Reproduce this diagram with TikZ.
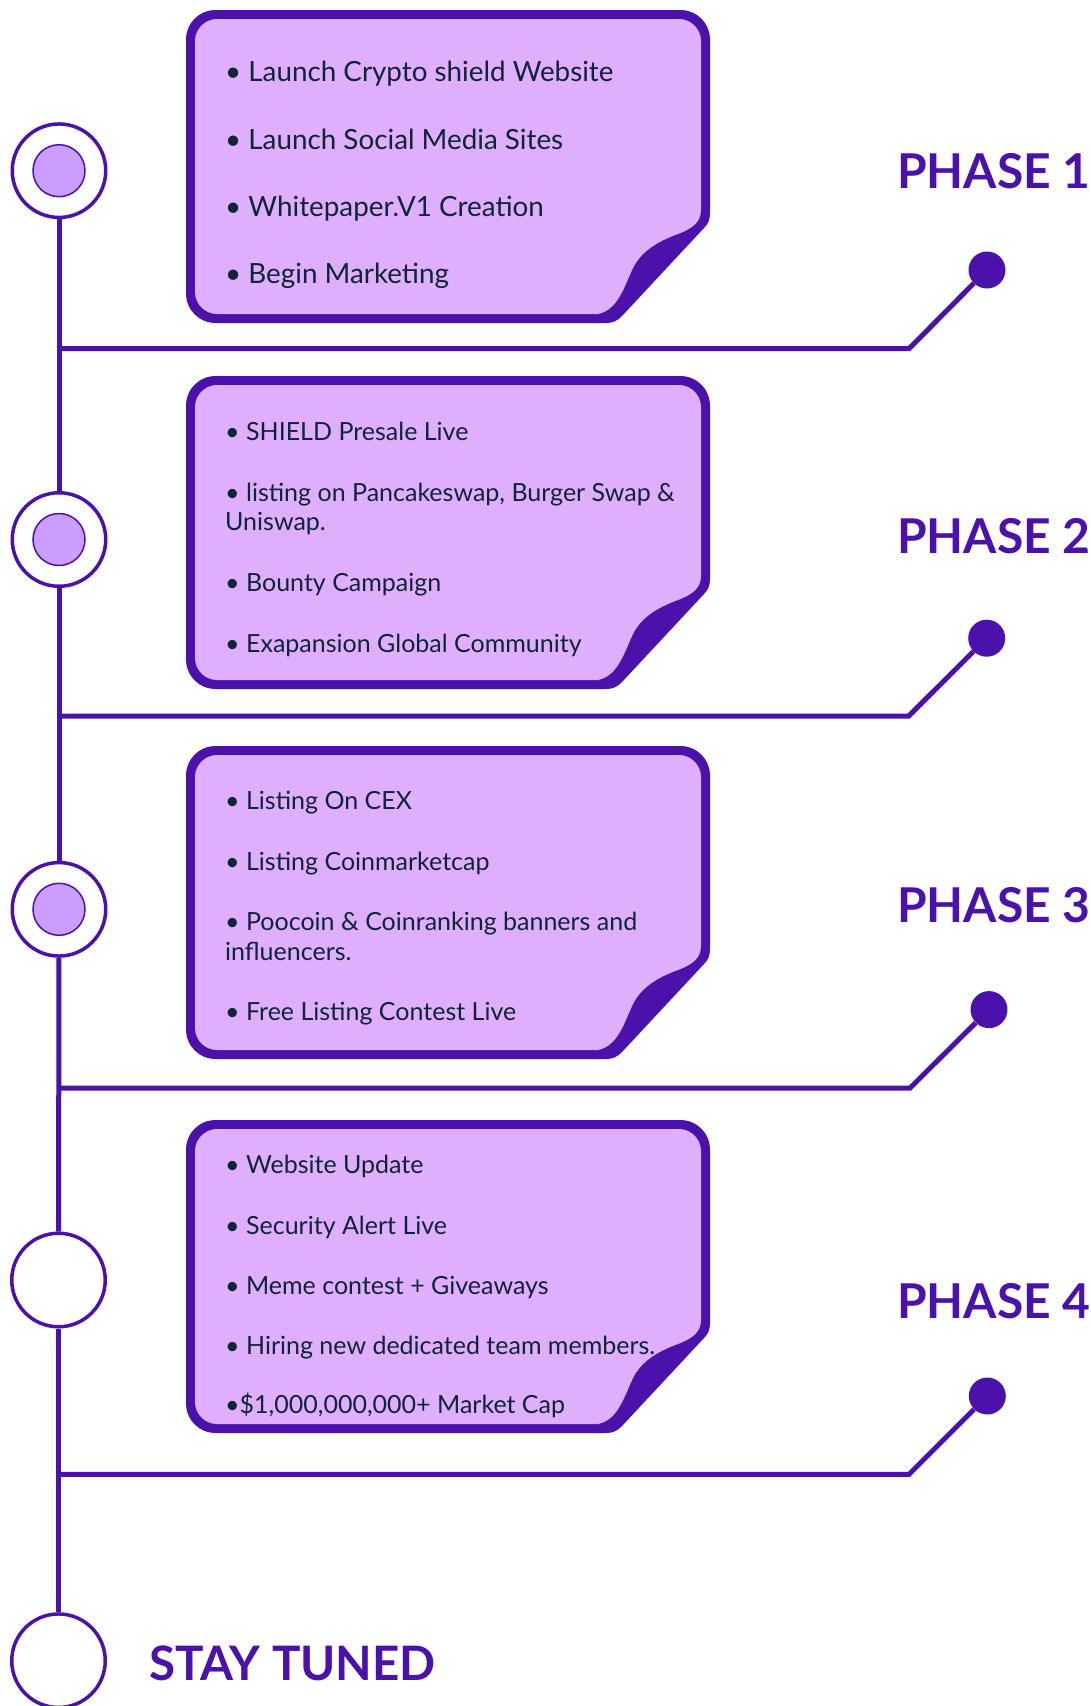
\documentclass[tikz,border=0pt]{standalone}
\usepackage{fontspec}
\setmainfont{Lato}
\definecolor{roadpurple}{HTML}{4A12AA}
\definecolor{notefill}{HTML}{DFAEFD}
\definecolor{corefill}{HTML}{CB9DFC}
\definecolor{notetext}{HTML}{0F2436}
\tikzset{
  road line/.style={
    draw=roadpurple,
    line width=5pt,
  },
  milestone/.style={
    circle,
    draw=roadpurple,
    line width=3.5pt,
    fill=white,
    minimum size=93.5pt,
    inner sep=0pt,
  },
  milestone core/.style={
    circle,
    draw=roadpurple,
    line width=1.5pt,
    fill=corefill,
    minimum size=52pt,
    inner sep=0pt,
  },
  phase tip/.style={
    circle,
    fill=roadpurple,
    minimum size=37pt,
    inner sep=0pt,
  },
  phase label/.style={
    text=roadpurple,
    font=\fontsize{48}{48}\selectfont\bfseries,
    anchor=base west,
    inner sep=0pt,
  },
  item/.style={
    text=notetext,
    font=\fontsize{25}{25}\selectfont,
    anchor=base west,
    inner sep=0pt,
  },
  big item/.style={
    item,
    font=\fontsize{27.8}{27.8}\selectfont,
  },
  note card/.pic={
    \fill[roadpurple] (0,30) .. controls (0,13) and (13,0) .. (30,0) -- (494,0)
      .. controls (511,0) and (524,13) .. (524,30) -- (524,203)
      .. controls (524,210) and (522,214) .. (518,218) -- (436,306)
      .. controls (431,311) and (427,313) .. (420,313) -- (30,313)
      .. controls (13,313) and (0,300) .. (0,283) -- cycle;
    \fill[notefill] (9,31) .. controls (9,19) and (19,9) .. (31,9) -- (493,9)
      .. controls (505,9) and (515,19) .. (515,31) -- (515,200)
      .. controls (515,213) and (505,219) .. (492,224)
      .. controls (470,232) and (455,242) .. (447,258)
      .. controls (438,277) and (432,300) .. (412,304) -- (31,304)
      .. controls (19,304) and (9,294) .. (9,282) -- cycle;
  },
}

\begin{document}
\begin{tikzpicture}[x=1pt, y=-1pt]
        \useasboundingbox[fill=white] (0,0) rectangle (1091,1706);

        % cards
        \pic at (186,10)   {note card};
        \pic at (186,376)  {note card};
        \pic at (186,746)  {note card};
        \pic at (186,1120) {note card};

        % milestones on the timeline
        \node[milestone] (c1) at (59,170.7)  {};
        \node[milestone] (c2) at (59,539.5)  {};
        \node[milestone] (c3) at (59,909.3)  {};
        \node[milestone] (c4) at (58.5,1280) {};
        \node[milestone] (c5) at (58.5,1660.7) {};
        \node[milestone core] (d1) at (c1) {};
        \node[milestone core] (d2) at (c2) {};
        \node[milestone core] (d3) at (c3) {};

        \draw[road line] (c1) -- (c2);
        \draw[road line] (c2) -- (c3);
        \draw[road line] (c3) -- (c4);
        \draw[road line] (c4) -- (c5);

        % branches to the phase tips
        \coordinate (j1) at (59,348.7);
        \coordinate (k1) at (909,348.7);
        \node[phase tip] (t1) at (987,270) {};
        \coordinate (j2) at (59,716.2);
        \coordinate (k2) at (908.5,716.2);
        \node[phase tip] (t2) at (986.7,638.2) {};
        \coordinate (j3) at (59,1088);
        \coordinate (k3) at (910,1088);
        \node[phase tip] (t3) at (989,1009.6) {};
        \coordinate (j4) at (58.5,1474.4);
        \coordinate (k4) at (909,1474.4);
        \node[phase tip] (t4) at (987.3,1396) {};

        \draw[road line] (j1) -- (k1) -- (t1);
        \draw[road line] (j2) -- (k2) -- (t2);
        \draw[road line] (j3) -- (k3) -- (t3);
        \draw[road line] (j4) -- (k4) -- (t4);

        \node[phase label] (ph1) at (897,188.3)  {PHASE 1};
        \node[phase label] (ph2) at (897,553.2)  {PHASE 2};
        \node[phase label] (ph3) at (897,922)    {PHASE 3};
        \node[phase label] (ph4) at (897,1318.3) {PHASE 4};
        \node[phase label, font=\fontsize{47.5}{47.5}\selectfont\bfseries] (tuned) at (149,1680) {STAY TUNED};

        % items
        \node[big item] (a1) at (225,81.7)  {• Launch Crypto shield Website};
        \node[big item] (a2) at (225,149)   {• Launch Social Media Sites};
        \node[big item] (a3) at (225,216.7) {• Whitepaper.V1 Creation};
        \node[big item] (a4) at (225,283.3) {• Begin Marketing};

        \node[item] (b1) at (225,440.7)  {• SHIELD Presale Live};
        \node[item] (b2) at (225,501.7)  {• listing on Pancakeswap, Burger Swap \&};
        \node[item] (b2x) at (225,530)   {Uniswap.};
        \node[item] (b3) at (225,591.7)  {• Bounty Campaign};
        \node[item] (b4) at (225,652.7)  {• Exapansion Global Community};

        \node[item] (e1) at (225,809)    {• Listing On CEX};
        \node[item] (e2) at (225,870)    {• Listing Coinmarketcap};
        \node[item] (e3) at (225,930)    {• Poocoin \& Coinranking banners and};
        \node[item] (e3x) at (225,960)   {influencers.};
        \node[item] (e4) at (225,1020.7) {• Free Listing Contest Live};

        \node[item] (f1) at (225,1173.3) {• Website Update};
        \node[item] (f2) at (225,1234)   {• Security Alert Live};
        \node[item] (f3) at (225,1294.3) {• Meme contest + Giveaways};
        \node[item] (f4) at (225,1354.3) {• Hiring new dedicated team members.};
        \node[item] (f5) at (225,1413.3) {•\$1,000,000,000+ Market Cap};
\end{tikzpicture}
\end{document}
